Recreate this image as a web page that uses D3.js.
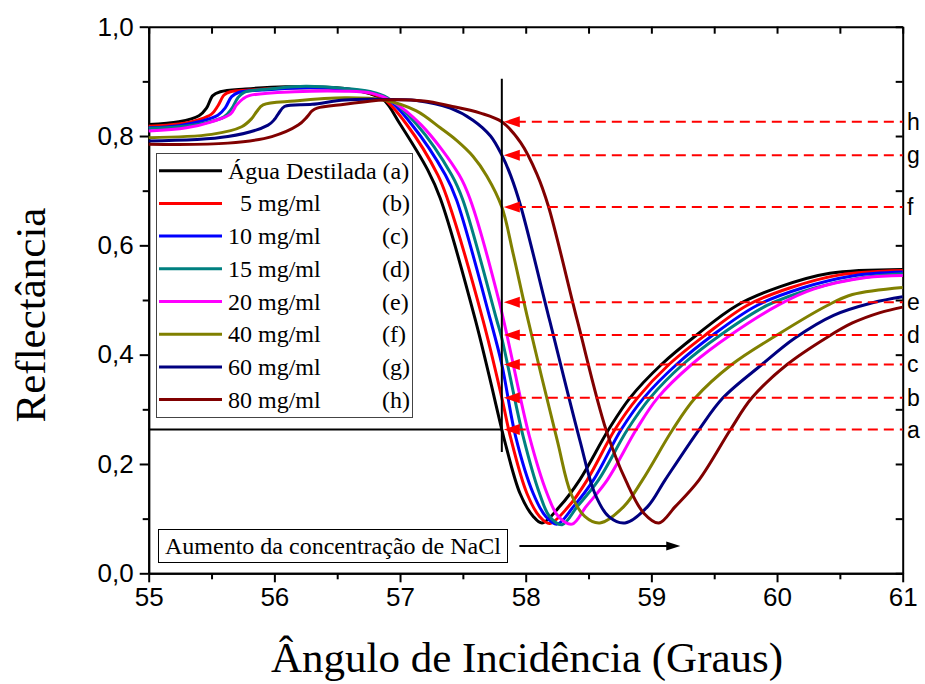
<!DOCTYPE html>
<html><head><meta charset="utf-8">
<script src="https://cdn.jsdelivr.net/npm/d3@7"></script>
<style>body{margin:0;background:#fff}svg{display:block}</style>
</head><body><svg id="c" width="925" height="684"></svg>
<script>
// ---------- data (angle in degrees, reflectance) ----------
const agua = [[55.00,0.821],[55.24,0.826],[55.40,0.837],[55.46,0.851],[55.51,0.874],[55.57,0.881],[55.77,0.886],[56.09,0.890],[56.56,0.887],[56.75,0.878],[56.87,0.866],[57.00,0.822],[57.22,0.738],[57.32,0.686],[57.60,0.463],[57.81,0.263],[57.835,0.240],[57.955,0.146],[58.06,0.104],[58.13,0.092],[58.27,0.122],[58.43,0.171],[58.66,0.263],[58.83,0.321],[59.08,0.382],[59.36,0.436],[59.68,0.490],[60.02,0.524],[60.42,0.549],[61.00,0.556]];
const c5 = [[55.00,0.818],[55.24,0.822],[55.40,0.830],[55.50,0.840],[55.55,0.855],[55.60,0.875],[55.65,0.881],[55.80,0.884],[56.10,0.888],[56.56,0.886],[56.75,0.879],[56.87,0.868],[57.05,0.822],[57.30,0.729],[57.38,0.683],[57.66,0.463],[57.81,0.321],[57.88,0.248],[58.01,0.146],[58.11,0.104],[58.19,0.091],[58.34,0.122],[58.49,0.171],[58.71,0.263],[58.89,0.321],[59.14,0.382],[59.43,0.436],[59.76,0.490],[60.10,0.522],[60.50,0.546],[61.00,0.554]];
const c10 = [[55.00,0.815],[55.24,0.819],[55.40,0.826],[55.55,0.838],[55.61,0.852],[55.66,0.872],[55.72,0.880],[55.90,0.884],[56.20,0.888],[56.56,0.886],[56.76,0.880],[56.90,0.868],[57.09,0.822],[57.36,0.729],[57.45,0.683],[57.72,0.463],[57.81,0.382],[57.92,0.250],[58.06,0.146],[58.16,0.104],[58.25,0.090],[58.38,0.122],[58.54,0.171],[58.76,0.263],[58.94,0.321],[59.20,0.382],[59.49,0.436],[59.84,0.490],[60.20,0.522],[60.60,0.544],[61.00,0.551]];
const c15 = [[55.00,0.814],[55.24,0.817],[55.45,0.824],[55.60,0.835],[55.66,0.850],[55.71,0.870],[55.76,0.880],[56.00,0.887],[56.25,0.891],[56.56,0.887],[56.77,0.881],[56.90,0.870],[57.13,0.822],[57.41,0.729],[57.50,0.683],[57.77,0.463],[57.81,0.430],[57.98,0.250],[58.11,0.146],[58.19,0.104],[58.29,0.089],[58.41,0.122],[58.58,0.171],[58.81,0.263],[58.99,0.321],[59.25,0.382],[59.55,0.436],[59.92,0.490],[60.30,0.522],[60.65,0.540],[61.00,0.548]];
const c20 = [[55.00,0.809],[55.30,0.815],[55.50,0.826],[55.65,0.840],[55.70,0.857],[55.75,0.868],[55.80,0.874],[56.16,0.881],[56.56,0.882],[56.78,0.878],[56.92,0.866],[57.17,0.820],[57.47,0.729],[57.56,0.683],[57.79,0.496],[58.03,0.250],[58.17,0.146],[58.26,0.104],[58.37,0.090],[58.48,0.122],[58.65,0.171],[58.88,0.263],[59.05,0.321],[59.32,0.382],[59.63,0.436],[60.02,0.492],[60.29,0.520],[60.71,0.541],[61.00,0.545]];
const c40 = [[55.00,0.797],[55.50,0.803],[55.74,0.817],[55.82,0.832],[55.86,0.845],[55.91,0.857],[56.16,0.864],[56.56,0.870],[56.87,0.866],[57.13,0.846],[57.32,0.815],[57.45,0.792],[57.58,0.763],[57.69,0.727],[57.81,0.670],[57.90,0.585],[58.01,0.472],[58.25,0.244],[58.36,0.146],[58.47,0.104],[58.59,0.092],[58.78,0.122],[58.93,0.171],[59.17,0.263],[59.35,0.321],[59.64,0.382],[60.00,0.436],[60.40,0.490],[60.60,0.510],[61.00,0.523]];
const c60 = [[55.00,0.791],[55.63,0.799],[55.95,0.820],[56.00,0.830],[56.03,0.840],[56.08,0.854],[56.30,0.858],[56.56,0.866],[56.87,0.867],[57.13,0.865],[57.40,0.851],[57.58,0.829],[57.72,0.800],[57.81,0.765],[57.88,0.728],[57.96,0.672],[58.19,0.463],[58.43,0.244],[58.55,0.146],[58.66,0.104],[58.79,0.092],[58.97,0.122],[59.11,0.171],[59.38,0.263],[59.57,0.321],[59.88,0.382],[60.14,0.430],[60.45,0.472],[60.76,0.495],[61.00,0.506]];
const c80 = [[55.00,0.785],[55.63,0.787],[55.98,0.799],[56.19,0.820],[56.26,0.835],[56.30,0.846],[56.34,0.851],[56.56,0.858],[56.87,0.866],[57.19,0.864],[57.40,0.855],[57.64,0.842],[57.81,0.826],[57.96,0.788],[58.09,0.730],[58.18,0.672],[58.41,0.463],[58.64,0.262],[58.80,0.168],[58.94,0.110],[59.06,0.092],[59.19,0.122],[59.38,0.171],[59.63,0.263],[59.80,0.321],[60.08,0.382],[60.40,0.432],[60.60,0.458],[60.82,0.477],[61.00,0.487]];

const seriesData = [agua, c5, c10, c15, c20, c40, c60, c80];
const seriesLabels = ["Água Destilada (a)", "\u00A0\u00A05 mg/ml", "10 mg/ml", "15 mg/ml", "20 mg/ml", "40 mg/ml", "60 mg/ml", "80 mg/ml"];
const seriesTags = ["", "(b)", "(c)", "(d)", "(e)", "(f)", "(g)", "(h)"];
const seriesColors = ["#000000", "#ff0000", "#0000ff", "#008080", "#ff00ff", "#808000", "#000080", "#800000"];
const arrowLetters = ["a", "b", "c", "d", "e", "f", "g", "h"];
const arrowLevels = [0.263, 0.321, 0.382, 0.436, 0.496, 0.670, 0.765, 0.826];
const markerAngle = 57.81;
const xTicks = [55, 56, 57, 58, 59, 60, 61];
const xMinor = [55.5, 56.5, 57.5, 58.5, 59.5, 60.5];
const yTicks = [0, 0.2, 0.4, 0.6, 0.8, 1.0];
const yMinor = [0.1, 0.3, 0.5, 0.7, 0.9];
const xTitle = "Ângulo de Incidência (Graus)";
const yTitle = "Reflectância";
const noteText = "Aumento da concentração de NaCl";

// ---------- chart ----------
const svg = d3.select("#c");
const x = d3.scaleLinear().domain([55, 61]).range([148.7, 902.7]);
const y = d3.scaleLinear().domain([0, 1]).range([573.3, 26.7]);
const fmt = d => d3.format(".1f")(d).replace(".", ",");
const tickFont = "Liberation Sans, Arial, sans-serif";
const serif = "Liberation Serif, Times New Roman, serif";

function styleAxis(g) {
  g.select(".domain").attr("stroke", "#000").attr("stroke-width", 2);
  g.selectAll(".tick line").attr("stroke", "#000").attr("stroke-width", 2);
  g.selectAll(".tick text").attr("font-family", tickFont).attr("font-size", 26).attr("fill", "#000");
}
// bottom
svg.append("g").attr("transform", `translate(0,${y(0)})`)
  .call(d3.axisBottom(x).tickValues(xTicks).tickFormat(d3.format("d")).tickSize(9).tickSizeOuter(0).tickPadding(5))
  .call(styleAxis);
svg.append("g").attr("transform", `translate(0,${y(0)})`)
  .call(d3.axisBottom(x).tickValues(xMinor).tickFormat("").tickSize(6).tickSizeOuter(0))
  .call(styleAxis);
// left
svg.append("g").attr("transform", `translate(${x(55)},0)`)
  .call(d3.axisLeft(y).tickValues(yTicks).tickFormat(fmt).tickSize(9).tickSizeOuter(0).tickPadding(6))
  .call(styleAxis);
svg.append("g").attr("transform", `translate(${x(55)},0)`)
  .call(d3.axisLeft(y).tickValues(yMinor).tickFormat("").tickSize(6).tickSizeOuter(0))
  .call(styleAxis);
// top & right (inward ticks)
svg.append("g").attr("transform", `translate(0,${y(1)})`)
  .call(d3.axisTop(x).tickValues(xTicks.concat(xMinor)).tickFormat("").tickSize(-7).tickSizeOuter(0))
  .call(styleAxis);
svg.append("g").attr("transform", `translate(${x(61)},0)`)
  .call(d3.axisRight(y).tickValues(yTicks.concat(yMinor)).tickFormat("").tickSize(-7).tickSizeOuter(0))
  .call(styleAxis);

// titles
svg.append("text").attr("x", 527).attr("y", 672).attr("text-anchor", "middle")
  .attr("font-family", serif).attr("font-size", 43).text(xTitle);
svg.append("text").attr("transform", "translate(45,315) rotate(-90)").attr("text-anchor", "middle")
  .attr("font-family", serif).attr("font-size", 43).text(yTitle);

// curves
const line = d3.line().x(d => x(d[0])).y(d => y(d[1])).curve(d3.curveCatmullRom.alpha(0.5));
const plot = svg.append("g");
seriesData.forEach((s, i) => {
  plot.append("path").attr("d", line(s)).attr("fill", "none")
    .attr("stroke", seriesColors[i]).attr("stroke-width", 3).attr("stroke-linejoin", "round");
});

// reference lines
svg.append("line").attr("x1", x(markerAngle)).attr("x2", x(markerAngle))
  .attr("y1", y(0.222)).attr("y2", y(0.905)).attr("stroke", "#000").attr("stroke-width", 2);
svg.append("line").attr("x1", x(55)).attr("x2", x(markerAngle))
  .attr("y1", y(arrowLevels[0])).attr("y2", y(arrowLevels[0])).attr("stroke", "#000").attr("stroke-width", 2);

// dashed red arrows + letters
arrowLevels.forEach((v, i) => {
  const yy = y(v), tip = x(markerAngle) + 2;
  svg.append("line").attr("x1", tip + 12).attr("x2", x(61)).attr("y1", yy).attr("y2", yy)
    .attr("stroke", "#ff0000").attr("stroke-width", 2).attr("stroke-dasharray", "10,6");
  svg.append("path").attr("d", `M${tip},${yy}L${tip + 16},${yy - 5.5}L${tip + 16},${yy + 5.5}Z`).attr("fill", "#ff0000");
  svg.append("text").attr("x", 907).attr("y", yy + 8).attr("font-family", tickFont)
    .attr("font-size", 23).text(arrowLetters[i]);
});

// legend
const lg = svg.append("g");
lg.append("rect").attr("x", 156.5).attr("y", 153.5).attr("width", 256).attr("height", 264)
  .attr("fill", "#fff").attr("stroke", "#444").attr("stroke-width", 1);
seriesLabels.forEach((lab, i) => {
  const cy = 170.7 + i * 32.7;
  lg.append("line").attr("x1", 159).attr("x2", 222).attr("y1", cy).attr("y2", cy)
    .attr("stroke", seriesColors[i]).attr("stroke-width", 3);
  lg.append("text").attr("x", 228).attr("y", cy + 8).attr("font-family", serif).attr("font-size", 24).text(lab);
  if (seriesTags[i]) lg.append("text").attr("x", 382).attr("y", cy + 8).attr("font-family", serif).attr("font-size", 24).text(seriesTags[i]);
});

// note box + arrow
const nb = svg.append("g");
nb.append("rect").attr("x", 158.5).attr("y", 529.5).attr("width", 349).attr("height", 33)
  .attr("fill", "#fff").attr("stroke", "#000").attr("stroke-width", 1);
nb.append("text").attr("x", 165).attr("y", 554).attr("font-family", serif).attr("font-size", 24).text(noteText);
const ay = y(0.05), ax0 = x(57.95), ax1 = x(59.23);
nb.append("line").attr("x1", ax0).attr("x2", ax1 - 10).attr("y1", ay).attr("y2", ay)
  .attr("stroke", "#000").attr("stroke-width", 2);
nb.append("path").attr("d", `M${ax1},${ay}L${ax1 - 14},${ay - 4.5}L${ax1 - 14},${ay + 4.5}Z`).attr("fill", "#000");
</script></body></html>
